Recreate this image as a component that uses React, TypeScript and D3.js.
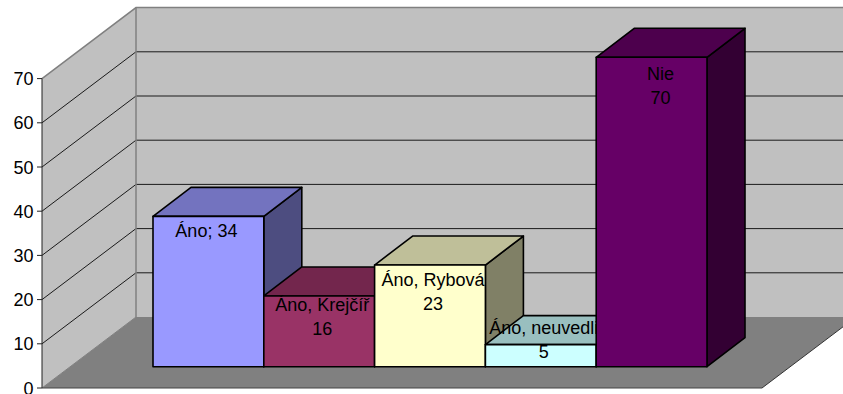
import React from "react";
import * as d3 from "d3";

// Survey answers shown as a 3D column chart
const categories = ["Áno", "Áno, Krejčíř", "Áno, Rybová", "Áno, neuvedli", "Nie"];
const values = [34, 16, 23, 5, 70];
const labelLines = [["Áno; 34"], ["Áno, Krejčíř", "16"], ["Áno, Rybová", "23"], ["Áno, neuvedli", "5"], ["Nie", "70"]];
const labelOffsetsY = [20.5, 15, 20.5, -10.5, 22.5];
const labelOffsetsX = [-2, 3, 3, 3, 9];
const frontColors = ["#9999FF", "#993366", "#FFFFCC", "#CCFFFF", "#660066"];
const axisTicks = [0, 10, 20, 30, 40, 50, 60, 70];

const WIDTH = 843;
const HEIGHT = 394;
const FONT = "'Liberation Sans', Arial, sans-serif";

// Plot box: front plane of the floor and the offset to the back wall
const box = { left: 42, right: 762, bottom: 388, top: 78.6, dx: 94, dy: -71 };
// Columns stand mid-way through the box and have their own, shallower depth
const bar = { baseline: 366.7, dx: 38, dy: -29 };

const yAxis = d3.scaleLinear().domain([0, 70]).range([box.bottom, box.top]);
const yBack = (v: number) => yAxis(v) + box.dy;
const yBar = d3.scaleLinear().domain([0, 70]).range([bar.baseline, bar.baseline - (box.bottom - box.top)]);
const xBar = d3.scaleBand<string>().domain(categories).range([153, 707]).padding(0);

const pts = (p: [number, number][]) => p.map((q) => q.join(",")).join(" ");
const shade = (color: string, k: number) => {
  const c = d3.rgb(color);
  return d3.rgb(c.r * k, c.g * k, c.b * k).formatHex();
};

export default function App() {
  const backX = box.left + box.dx;
  const backRight = box.right + box.dx;
  return (
    <svg
      width={WIDTH}
      height={HEIGHT}
      viewBox={`0 0 ${WIDTH} ${HEIGHT}`}
      style={{ position: "absolute", left: 0, top: 0, background: "#fff" }}
      fontFamily={FONT}
    >
      {/* Walls and floor */}
      <polygon
        points={pts([[box.left, yAxis(0)], [backX, yBack(0)], [backX, yBack(70)], [box.left, yAxis(70)]])}
        fill="#C0C0C0"
      />
      <rect x={backX} y={yBack(70)} width={backRight - backX} height={yBack(0) - yBack(70)} fill="#C0C0C0" />
      <polygon
        points={pts([[box.left, yAxis(0)], [box.right, yAxis(0)], [backRight, yBack(0)], [backX, yBack(0)]])}
        fill="#808080"
      />

      {/* Gridlines across the side and back walls */}
      {axisTicks.slice(1, -1).map((t) => (
        <polyline
          key={t}
          points={pts([[box.left, yAxis(t)], [backX, yBack(t)], [backRight, yBack(t)]])}
          fill="none"
          stroke="#1a1a1a"
          strokeWidth={1}
        />
      ))}

      {/* Wall outlines */}
      <polyline
        points={pts([[box.left, yAxis(70)], [backX, yBack(70)], [backRight, yBack(70)]])}
        fill="none"
        stroke="#808080"
        strokeWidth={1.5}
      />
      <line x1={backX} x2={backX} y1={yBack(70)} y2={yBack(0)} stroke="#808080" strokeWidth={1.5} />
      <line x1={box.left} x2={backX} y1={yAxis(0)} y2={yBack(0)} stroke="#808080" strokeWidth={1} />
      <line x1={box.right} x2={backRight} y1={yAxis(0)} y2={yBack(0)} stroke="#333" strokeWidth={1} />

      {/* Columns, painted left to right so each one covers its neighbour */}
      {categories.map((cat, i) => {
        const x0 = xBar(cat)!;
        const x1 = x0 + xBar.bandwidth();
        const yt = yBar(values[i]);
        const yb = yBar(0);
        const cx = (x0 + x1) / 2 + labelOffsetsX[i];
        const base = yt + labelOffsetsY[i];
        return (
          <g key={cat}>
            <g stroke="#000" strokeWidth={1.6} strokeLinejoin="round">
              <polygon
                points={pts([[x1, yt], [x1 + bar.dx, yt + bar.dy], [x1 + bar.dx, yb + bar.dy], [x1, yb]])}
                fill={shade(frontColors[i], 0.5)}
              />
              <polygon
                points={pts([[x0, yt], [x0 + bar.dx, yt + bar.dy], [x1 + bar.dx, yt + bar.dy], [x1, yt]])}
                fill={shade(frontColors[i], 0.75)}
              />
              <rect x={x0} y={yt} width={x1 - x0} height={yb - yt} fill={frontColors[i]} />
            </g>
            <text textAnchor="middle" fontSize={18} fill="#000">
              {labelLines[i].map((line, k) => (
                <tspan key={k} x={cx} y={base + k * 24.3}>
                  {line}
                </tspan>
              ))}
            </text>
          </g>
        );
      })}

      {/* Value axis */}
      <line x1={box.left} x2={box.left} y1={yAxis(70)} y2={yAxis(0)} stroke="#222" strokeWidth={1} />
      <line x1={box.left} x2={box.right} y1={yAxis(0)} y2={yAxis(0)} stroke="#444" strokeWidth={1} />
      {axisTicks.map((t) => (
        <g key={t}>
          <line x1={37} x2={box.left} y1={yAxis(t)} y2={yAxis(t)} stroke="#222" strokeWidth={1} />
          <text x={33.5} y={yAxis(t) + 6.5} textAnchor="end" fontSize={18} fill="#000">
            {t}
          </text>
        </g>
      ))}
    </svg>
  );
}
